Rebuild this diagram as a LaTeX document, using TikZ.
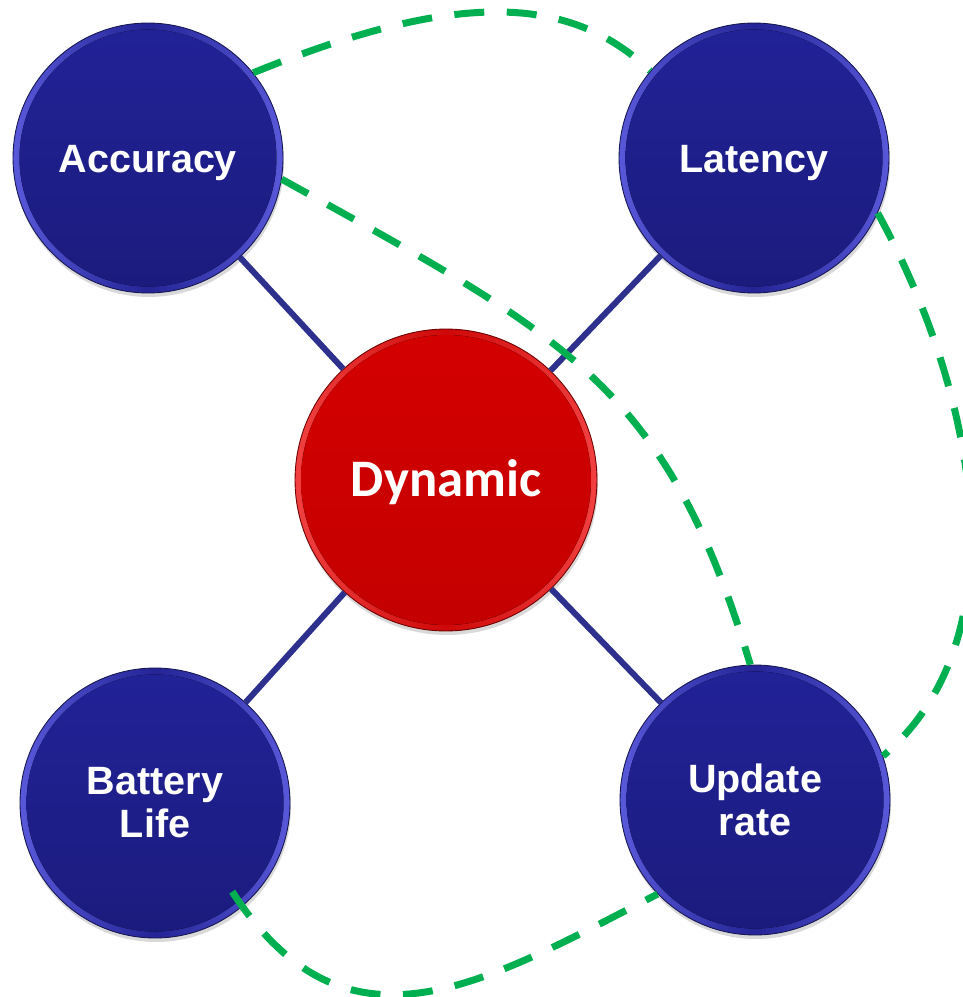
\documentclass[tikz,border=0pt]{standalone}
\usepackage{fontspec}
\usetikzlibrary{shadows}
\newfontfamily\arialfont{Liberation Sans}
\newfontfamily\califont{Carlito}
\definecolor{navyface}{RGB}{34,34,152}
\definecolor{navydeep}{RGB}{27,27,125}
\definecolor{navyrim}{RGB}{88,88,218}
\definecolor{navymid}{RGB}{36,36,150}
\definecolor{navyedge}{RGB}{22,22,80}
\definecolor{navyline}{RGB}{45,48,140}
\definecolor{redface}{RGB}{212,0,0}
\definecolor{reddeep}{RGB}{196,0,0}
\definecolor{redrim}{RGB}{242,64,64}
\definecolor{redmid}{RGB}{206,8,8}
\definecolor{rededge}{RGB}{110,0,0}
\definecolor{linkgreen}{RGB}{0,176,80}
\tikzset{
    goal/.style={circle, minimum size=5.4cm, inner sep=0pt, draw=navyedge,
        line width=0.5pt, left color=navyrim, right color=navyrim, middle color=navymid,
        drop shadow={opacity=0.3, shadow xshift=0.02cm, shadow yshift=-0.08cm},
        path picture={\fill[top color=navyface, bottom color=navydeep]
            (path picture bounding box.center) circle (2.57cm);},
        text=white, font=\arialfont\bfseries\fontsize{22.5}{24.4}\selectfont,
        align=center, text height=16.1pt, text depth=0pt},
    twoline/.style={text height={}, text depth={}},
    hub/.style={circle, minimum size=6.04cm, inner sep=0pt, draw=rededge,
        line width=0.5pt, left color=redrim, right color=redrim, middle color=redmid,
        drop shadow={opacity=0.3, shadow xshift=0.02cm, shadow yshift=-0.08cm},
        path picture={\fill[top color=redface, bottom color=reddeep]
            (path picture bounding box.center) circle (2.9cm);},
        text=white, font=\califont\bfseries\fontsize{30}{36}\selectfont,
        text height=19.3pt, text depth=0pt},
    link/.style={draw=navyline, line width=0.12cm},
    trade/.style={draw=linkgreen, line width=0.14cm, dash pattern=on 0.6cm off 0.45cm}
}
\begin{document}
\begin{tikzpicture}[x=0.02cm, y=-0.02cm]
	\useasboundingbox (0,0) rectangle (963,997);
	\node[goal] (acc) at (148,158) {Accuracy};
	\node[goal] (lat) at (754,158) {Latency};
	\node[hub] (dyn) at (446,480) {Dynamic};
	\node[goal, twoline] (bat) at (155,803) {Battery\\Life};
	\node[goal, twoline] (upd) at (755,800) {Update\\rate};
	\draw[link] (acc) -- (dyn); \draw[link] (lat) -- (dyn);
	\draw[link] (bat) -- (dyn); \draw[link] (upd) -- (dyn);
	\draw[trade] (acc.39) .. controls (452,-8) and (568,-8) .. (lat.140);
	\draw[trade] (acc.-9) .. controls (564,336) and (666,383) .. (upd.92);
	\draw[trade] (lat.-24) .. controls (980,400) and (1020,640) .. (upd.19);
	\draw[trade, shorten <=-0.36cm] (bat.-50) .. controls (346,1066) and (479,986) .. (upd.-136);
\end{tikzpicture}
\end{document}
